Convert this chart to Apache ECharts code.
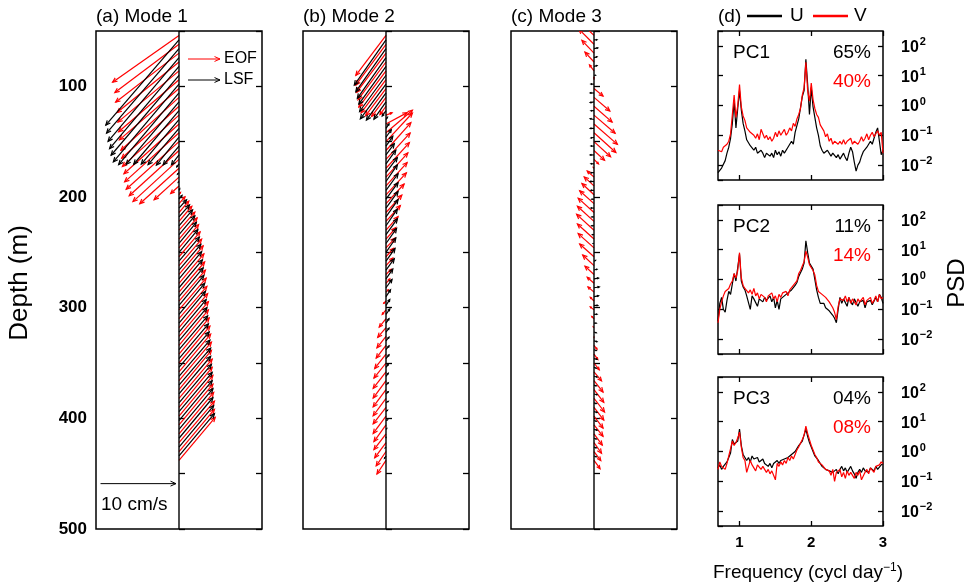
<!DOCTYPE html>
<html><head><meta charset="utf-8">
<script src="https://cdn.jsdelivr.net/npm/echarts@6/dist/echarts.min.js"></script>
<style>html,body{margin:0;padding:0;background:#fff}#chart{width:974px;height:588px}</style>
</head><body><div id="chart"></div>
<script>
// ---------------- DATA ----------------
// depth bins (m): EOF arrows and LSF arrows (interleaved bins)
const eofDepths = [54,62,70,78,86,94,102,110,118,126,134,142,150,158,166,174,182,190,198,206,214,222,230,238,246,254,262,270,278,286,294,302,310,318,326,334,342,350,358,366,374,382,390,398,406,414,422,430,438];
const lsfDepths = [58,66,74,82,90,98,106,114,122,130,138,146,154,162,170,178,186,194,202,210,218,226,234,242,250,258,266,274,282,290,298,306,314,322,330,338,346,354,362,370,378,386,394,402,410,418,426,434];

// Mode 1 velocities (cm/s): u east, v north
const mode1EofU = [-8.8,-8.5,-8.4,-8.2,-8.1,-8.0,-7.9,-7.7,-7.6,-7.5,-7.3,-7.2,-7.0,-6.6,-6.1,-5.2,-3.3,-1.1,0.2,0.8,1.3,1.7,2.1,2.4,2.6,2.8,3.0,3.2,3.3,3.4,3.5,3.6,3.7,3.8,3.9,3.9,4.0,4.1,4.2,4.3,4.3,4.4,4.4,4.5,4.5,4.6,4.7,4.7,4.8];
const mode1EofV = [-6.2,-6.4,-6.5,-6.7,-6.8,-6.9,-6.8,-7.0,-6.9,-6.8,-6.6,-6.5,-6.3,-6.0,-5.6,-4.7,-3.0,-1.0,0.3,0.9,1.5,2.0,2.4,2.8,3.1,3.3,3.5,3.8,3.9,4.0,4.1,4.2,4.3,4.5,4.6,4.7,4.8,4.9,5.0,5.1,5.2,5.2,5.3,5.4,5.4,5.5,5.5,5.6,5.7];
const mode1LsfU = [-9.7,-9.6,-9.4,-9.2,-9.0,-8.7,-8.0,-7.0,-6.0,-5.0,-4.1,-3.0,-2.1,-1.0,-0.3,-0.2,-0.1,0.1,0.4,1.0,1.4,1.8,2.1,2.3,2.5,2.7,2.9,3.0,3.1,3.2,3.3,3.4,3.5,3.6,3.7,3.8,3.9,4.0,4.1,4.2,4.2,4.3,4.4,4.4,4.5,4.5,4.6,4.7];
const mode1LsfV = [-11.3,-11.2,-11.1,-10.9,-10.6,-10.3,-9.5,-8.3,-7.1,-5.9,-4.8,-3.7,-2.5,-1.3,-0.4,-0.2,-0.1,0.2,0.5,1.1,1.6,2.1,2.5,2.8,3.0,3.2,3.4,3.6,3.7,3.8,4.0,4.1,4.2,4.3,4.4,4.5,4.6,4.7,4.8,4.9,5.0,5.1,5.2,5.3,5.4,5.4,5.5,5.6];

// Mode 2 velocities (cm/s)
const mode2EofU = [-4.0,-4.0,-3.9,-3.7,-3.6,-3.3,-2.7,-1.9,-0.8,0.8,2.8,3.5,3.5,3.3,3.2,3.1,2.9,2.8,2.7,2.4,2.1,1.9,1.6,1.3,1.2,1.0,0.9,0.7,0.5,0.3,-0.3,-0.5,-0.9,-1.1,-1.2,-1.3,-1.5,-1.6,-1.7,-1.7,-1.7,-1.7,-1.7,-1.7,-1.6,-1.6,-1.5,-1.3,-1.2];
const mode2EofV = [-5.3,-5.4,-5.2,-5.0,-4.8,-4.4,-3.6,-2.5,-1.1,0.3,1.5,3.0,3.8,3.7,3.5,3.4,3.2,3.1,2.9,2.6,2.3,2.1,1.8,1.5,1.3,1.1,1.0,0.7,0.6,0.3,-0.3,-0.6,-1.1,-1.3,-1.5,-1.7,-1.9,-2.0,-2.2,-2.3,-2.3,-2.3,-2.2,-2.3,-2.2,-2.1,-2.0,-1.9,-1.8];
const mode2LsfU = [-4.2,-4.0,-3.8,-3.6,-3.5,-3.4,-2.6,-1.6,-0.5,0.2,0.4,0.7,0.9,1.1,1.3,1.5,1.5,1.6,1.6,1.6,1.6,1.5,1.5,1.4,1.3,1.2,1.1,0.9,0.8,0.6,0.5,0.5,0.4,0.4,0.4,0.4,0.4,0.3,0.3,0.3,0.3,0.3,0.2,0.2,0.1,0.0,-0.1,-0.2];
const mode2LsfV = [-6.0,-5.7,-5.4,-5.0,-4.8,-4.6,-3.6,-2.3,-0.7,0.3,0.6,1.0,1.3,1.5,1.8,2.0,2.2,2.2,2.2,2.2,2.3,2.2,2.1,2.0,1.9,1.7,1.5,1.3,1.1,0.9,0.8,0.7,0.6,0.5,0.5,0.5,0.5,0.4,0.4,0.3,0.3,0.2,0.2,0.1,0.1,0.1,-0.1,-0.3];

// Mode 3 velocities (cm/s)
const mode3EofU = [-2.3,-2.0,-1.6,-1.2,-0.6,0.0,1.2,2.1,2.4,2.8,3.1,2.9,2.2,1.4,0.6,-0.1,-0.9,-1.3,-1.6,-1.9,-2.1,-2.2,-2.3,-2.2,-2.1,-1.9,-1.5,-1.2,-0.9,-0.8,-0.5,-0.5,-0.3,-0.1,0.0,0.4,0.5,0.7,1.0,1.2,1.3,1.4,1.3,1.2,1.2,1.1,1.0,0.9,0.8];
const mode3EofV = [2.2,2.0,1.7,1.3,0.8,0.3,-1.0,-1.8,-2.1,-2.4,-2.7,-2.6,-2.0,-1.3,-0.6,0.1,0.8,1.2,1.5,1.7,1.9,2.0,2.1,2.0,1.9,1.7,1.4,1.1,0.8,0.7,0.5,0.4,0.3,0.1,-0.1,-0.5,-0.7,-0.9,-1.2,-1.5,-1.7,-1.8,-1.7,-1.6,-1.5,-1.5,-1.4,-1.2,-1.1];
const mode3LsfU = [0.4,0.5,0.4,0.4,0.2,-0.4,-0.5,-0.5,-0.4,-0.5,-0.5,-0.4,-0.4,-0.5,-0.4,-0.4,-0.5,-0.4,-0.3,-0.4,-0.3,-0.3,-0.2,-0.1,0.0,0.2,0.4,0.6,0.7,0.6,0.5,0.4,0.3,0.3,0.4,0.3,0.4,0.3,0.4,0.3,0.4,0.3,0.4,0.3,0.4,0.3,0.3,0.3];
const mode3LsfV = [0.0,0.1,0.1,0.1,0.0,0.0,0.0,-0.1,0.0,0.1,0.0,-0.1,0.0,0.0,0.0,0.0,0.0,0.0,0.0,0.0,0.0,0.0,0.0,0.0,0.0,0.1,0.1,0.1,0.1,0.1,0.0,0.0,0.0,-0.1,-0.1,-0.1,-0.1,-0.1,-0.1,-0.1,-0.1,-0.1,-0.1,-0.1,-0.1,-0.1,-0.1,-0.1];

// Spectra: frequency (cycl/day) and log10(PSD)
const freqs = [0.7,0.725,0.75,0.775,0.8,0.825,0.85,0.875,0.9,0.925,0.95,0.975,1,1.025,1.05,1.075,1.1,1.125,1.15,1.175,1.2,1.225,1.25,1.275,1.3,1.325,1.35,1.375,1.4,1.425,1.45,1.475,1.5,1.525,1.55,1.575,1.6,1.625,1.65,1.675,1.7,1.725,1.75,1.775,1.8,1.825,1.85,1.875,1.9,1.925,1.95,1.975,2,2.025,2.05,2.075,2.1,2.125,2.15,2.175,2.2,2.225,2.25,2.275,2.3,2.325,2.35,2.375,2.4,2.425,2.45,2.475,2.5,2.525,2.55,2.575,2.6,2.625,2.65,2.675,2.7,2.725,2.75,2.775,2.8,2.825,2.85,2.875,2.9,2.925,2.95,2.975,3];
const pc1ULog = [-2.25,-2.2,-2.1,-2.15,-1.85,-1.6,-1.4,-1.1,-0.6,0.15,
 -0.75,-0.1,0.5,-0.15,-0.6,-0.85,-1.15,-1.1,-1.35,-1.3,
 -1.5,-1.4,-1.6,-1.65,-1.5,-1.6,-1.75,-1.6,-1.55,-1.7,
 -1.6,-1.75,-1.5,-1.65,-1.55,-1.7,-1.5,-1.6,-1.55,-1.4,
 -1.4,-1.2,-1.3,-0.9,-0.85,-0.45,-0.5,0.3,0.5,1.55,
 0.7,-0.3,0.6,-0.05,-0.4,-0.75,-1.0,-1.35,-1.5,-1.6,
 -1.6,-1.5,-1.55,-1.7,-1.6,-1.55,-1.75,-1.65,-1.8,-1.7,
 -1.6,-1.75,-1.85,-1.6,-1.4,-1.55,-1.9,-2.2,-2.0,-1.9,
 -1.7,-1.55,-1.6,-1.4,-1.45,-1.2,-1.3,-1.1,-0.9,-0.75,
 -1.2,-1.65,-1.5];
const pc1VLog = [-1.5,-1.45,-1.55,-1.4,-1.35,-1.3,-1.2,-0.95,-0.3,0.35,
 -0.4,0.0,0.7,-0.05,-0.35,-0.5,-0.75,-0.7,-0.9,-0.85,
 -1.0,-1.1,-0.95,-1.15,-0.8,-0.85,-1.1,-1.0,-1.15,-1.05,
 -1.2,-1.1,-0.9,-1.05,-0.85,-1.0,-0.95,-0.8,-1.0,-0.9,
 -0.75,-0.85,-0.6,-0.7,-0.45,-0.3,-0.1,0.35,0.6,1.45,
 0.5,0.15,0.75,0.2,-0.1,-0.3,-0.4,-0.65,-0.6,-0.85,
 -1.05,-0.95,-1.2,-1.1,-1.3,-1.2,-1.25,-1.3,-1.2,-1.3,
 -1.15,-1.3,-1.2,-1.25,-1.1,-1.3,-1.2,-1.15,-1.3,-1.2,
 -1.05,-1.2,-1.1,-0.95,-1.15,-1.0,-0.9,-1.05,-0.95,-0.85,
 -1.0,-0.9,-1.6];
const pc2ULog = [-1.4,-0.8,-0.6,-1.0,-1.1,-0.7,-0.4,-0.5,-0.15,0.2,
 -0.05,0.0,0.85,-0.05,-0.25,-0.35,-0.55,-0.6,-1.0,-0.55,
 -0.65,-0.7,-0.9,-0.65,-0.6,-0.75,-0.6,-0.7,-0.65,-0.55,
 -0.75,-0.6,-0.95,-0.7,-1.0,-0.65,-0.7,-0.55,-0.6,-0.45,
 -0.5,-0.35,-0.4,-0.2,-0.1,0.1,0.15,0.35,0.55,1.3,
 0.9,0.55,0.5,0.35,0.0,-0.35,-0.6,-0.8,-0.85,-0.8,
 -0.95,-0.9,-1.05,-1.0,-1.2,-1.3,-1.45,-1.0,-0.6,-0.8,
 -0.65,-0.7,-0.9,-0.6,-0.75,-0.85,-0.65,-0.7,-0.9,-0.75,
 -0.8,-0.7,-0.95,-0.75,-0.8,-0.7,-0.85,-0.8,-0.6,-0.75,
 -0.5,-0.6,-0.8];
const pc2VLog = [-1.45,-1.0,-0.75,-0.55,-0.4,-0.35,-0.3,-0.15,-0.05,0.2,
 0.05,0.3,0.9,0.05,-0.2,-0.3,-0.25,-0.45,-0.35,-0.5,
 -0.3,-0.55,-0.45,-0.65,-0.5,-0.45,-0.6,-0.75,-0.55,-0.6,
 -0.45,-0.65,-0.55,-0.75,-0.5,-0.6,-0.45,-0.5,-0.4,-0.55,
 -0.35,-0.4,-0.2,-0.25,-0.05,0.2,0.3,0.45,0.6,0.95,
 0.75,0.5,0.45,0.3,0.15,-0.2,-0.4,-0.45,-0.5,-0.45,
 -0.6,-0.55,-0.75,-0.8,-0.95,-1.1,-1.35,-0.9,-0.65,-0.6,
 -0.7,-0.55,-0.75,-0.6,-0.8,-0.65,-0.7,-0.85,-0.65,-0.75,
 -0.7,-0.6,-0.85,-0.7,-0.75,-0.6,-0.8,-0.7,-0.55,-0.75,
 -0.5,-0.65,-0.6];
const pc3ULog = [-0.55,-0.45,-0.6,-0.5,-0.45,-0.35,-0.2,-0.05,0.4,0.25,
 0.2,0.35,0.75,0.2,-0.1,-0.15,-0.3,-0.2,-0.35,-0.15,
 -0.25,-0.3,-0.2,-0.35,-0.3,-0.25,-0.4,-0.35,-0.5,-0.4,
 -0.55,-0.4,-0.35,-0.3,-0.4,-0.3,-0.35,-0.25,-0.3,-0.2,
 -0.25,-0.1,-0.15,0.0,0.05,0.2,0.15,0.35,0.4,0.75,
 0.5,0.3,0.15,0.0,-0.15,-0.2,-0.3,-0.35,-0.5,-0.45,
 -0.6,-0.55,-0.65,-0.6,-0.7,-0.65,-0.6,-0.75,-0.6,-0.5,
 -0.65,-0.55,-0.7,-0.6,-0.5,-0.65,-0.75,-0.9,-0.7,-0.6,
 -0.7,-0.55,-0.65,-0.6,-0.7,-0.55,-0.6,-0.65,-0.5,-0.6,
 -0.55,-0.45,-0.4];
const pc3VLog = [-0.6,-0.35,-0.5,-0.45,-0.6,-0.4,-0.15,0.1,0.35,0.2,
 0.3,0.45,0.65,0.15,-0.2,-0.3,-0.7,-0.75,-0.3,-0.45,
 -0.4,-0.65,-0.45,-0.4,-0.6,-0.5,-0.55,-0.7,-0.6,-0.75,
 -0.65,-0.8,-0.95,-0.4,-0.5,-0.35,-0.45,-0.3,-0.4,-0.2,
 -0.3,-0.15,-0.25,-0.1,0.05,0.15,0.1,0.4,0.55,0.85,
 0.6,0.4,0.2,0.05,-0.1,-0.2,-0.35,-0.3,-0.45,-0.5,
 -0.6,-0.55,-0.65,-0.8,-0.6,-1.0,-0.7,-0.75,-0.6,-0.85,
 -0.7,-0.9,-0.65,-0.8,-0.7,-0.75,-0.9,-0.7,-0.8,-0.65,
 -0.95,-1.0,-0.7,-0.6,-0.75,-0.55,-0.6,-0.7,-0.5,-0.55,
 -0.45,-0.35,-0.4];

const panelTitles = ['(a) Mode 1', '(b) Mode 2', '(c) Mode 3'];
const pcNames = ['PC1', 'PC2', 'PC3'];
const varianceU = ['65%', '11%', '04%'];
const varianceV = ['40%', '14%', '08%'];
const depthRange = [50, 500];
const speedRange = [-11, 11];
const freqRange = [0.7, 3];
const psdRange = [0.0031623, 316.23];
const scaleBar = { depth: 459, startU: -10.4, speed: 10, label: '10 cm/s' };

// ---------------- CHART ----------------
const FF = '"Liberation Sans", Arial, Helvetica, sans-serif';
const RED = '#ff0000';
const BLACK = '#000000';
const ARROW_W = 1.2;

function arrowShapes(x0, y0, x1, y1, color, maxHead, lw) {
  const dx = x1 - x0, dy = y1 - y0;
  const len = Math.sqrt(dx * dx + dy * dy);
  if (len < 0.4) return [];
  const h = Math.min(maxHead, 0.38 * len);
  const ang = Math.atan2(dy, dx);
  const a = 0.42;
  const p1 = [x1 - h * Math.cos(ang - a), y1 - h * Math.sin(ang - a)];
  const p2 = [x1 - h * Math.cos(ang + a), y1 - h * Math.sin(ang + a)];
  const st = { stroke: color, lineWidth: lw || ARROW_W, fill: null };
  return [
    { type: 'polyline', shape: { points: [[x0, y0], [x1, y1]] }, style: st },
    { type: 'polyline', shape: { points: [p1, [x1, y1], p2] }, style: st }
  ];
}

function featherRender(color) {
  return function (params, api) {
    const d = api.value(0), u = api.value(1), v = api.value(2);
    const base = api.coord([0, d]);
    const s = api.size([1, 0])[0];
    const tip = [base[0] + u * s, base[1] - v * s];
    return { type: 'group', children: arrowShapes(base[0], base[1], tip[0], tip[1], color, 5) };
  };
}

function rows(ds, us, vs) { return ds.map((d, i) => [d, us[i], vs[i]]); }

const featherLefts = [96, 303, 511];
const psdTops = [31, 205, 377];
const grids = [];
featherLefts.forEach(l => grids.push({ left: l, top: 31, width: 166, height: 498 }));
psdTops.forEach(t => grids.push({ left: 718, top: t, width: 165, height: 149 }));
grids.forEach(g => { g.show = true; g.borderColor = '#000'; g.borderWidth = 1.5; g.backgroundColor = 'transparent'; g.containLabel = false; g.outerBoundsMode = 'none'; });

const tickStyle = { show: true, inside: true, length: 6, lineStyle: { color: '#000', width: 1.3 } };

const xAxis = [];
const yAxis = [];
for (let k = 0; k < 3; k++) {
  xAxis.push({ type: 'value', gridIndex: k, min: speedRange[0], max: speedRange[1], show: false });
}
for (let k = 0; k < 3; k++) {
  xAxis.push({
    type: 'value', gridIndex: 3 + k, position: 'bottom', min: freqRange[0], max: freqRange[1],
    axisLine: { show: false }, splitLine: { show: false },
    axisTick: Object.assign({}, tickStyle, { length: 5, customValues: [1, 2, 3] }),
    axisLabel: { show: k === 2, customValues: [1, 2, 3], color: '#000', fontWeight: 'bold', fontSize: 15, fontFamily: FF, margin: 9 }
  });
}
for (let k = 0; k < 3; k++) {
  xAxis.push({
    type: 'value', gridIndex: 3 + k, position: 'top', min: freqRange[0], max: freqRange[1],
    axisLine: { show: false }, splitLine: { show: false },
    axisTick: Object.assign({}, tickStyle, { length: 5, customValues: [1, 2, 3] }),
    axisLabel: { show: false }
  });
}
for (let k = 0; k < 3; k++) {
  ['left', 'right'].forEach(pos => {
    yAxis.push({
      type: 'value', gridIndex: k, position: pos, inverse: true, min: depthRange[0], max: depthRange[1], interval: 50,
      axisLine: { show: false }, splitLine: { show: false }, axisTick: tickStyle,
      axisLabel: {
        show: k === 0 && pos === 'left', color: '#000', fontWeight: 'bold', fontSize: 17, fontFamily: FF, margin: 9,
        formatter: v => (v % 100 === 0 && v >= 100) ? String(v) : ''
      }
    });
  });
}
for (let k = 0; k < 3; k++) {
  ['left', 'right'].forEach(pos => {
    yAxis.push({
      type: 'log', logBase: 10, gridIndex: 3 + k, position: pos, min: psdRange[0], max: psdRange[1],
      axisLine: { show: false }, splitLine: { show: false },
      axisTick: Object.assign({}, tickStyle, { length: 5 }),
      axisLabel: {
        show: pos === 'right', showMinLabel: false, showMaxLabel: false, margin: 18, color: '#000',
        fontFamily: FF,
        formatter: v => {
          const e = Math.round(Math.log10(v));
          return '{b|10}{e|' + (e < 0 ? '\u2212' + (-e) : e) + '}';
        },
        rich: {
          b: { fontSize: 16, fontWeight: 'bold', fontFamily: FF, color: '#000', verticalAlign: 'bottom' },
          e: { fontSize: 11, fontWeight: 'bold', fontFamily: FF, color: '#000', verticalAlign: 'bottom', padding: [0, 0, 8, 1] }
        }
      }
    });
  });
}

const series = [];
const featherSets = [
  [mode1EofU, mode1EofV, mode1LsfU, mode1LsfV],
  [mode2EofU, mode2EofV, mode2LsfU, mode2LsfV],
  [mode3EofU, mode3EofV, mode3LsfU, mode3LsfV]
];
featherSets.forEach((set, k) => {
  series.push({ type: 'custom', name: 'EOF', xAxisIndex: k, yAxisIndex: 2 * k, data: rows(eofDepths, set[0], set[1]),
    encode: { x: 1, y: 0 }, renderItem: featherRender(RED), clip: true, silent: true, z: 2 });
  series.push({ type: 'custom', name: 'LSF', xAxisIndex: k, yAxisIndex: 2 * k, data: rows(lsfDepths, set[2], set[3]),
    encode: { x: 1, y: 0 }, renderItem: featherRender(BLACK), clip: true, silent: true, z: 3 });
  series.push({ type: 'line', xAxisIndex: k, yAxisIndex: 2 * k, data: [[0, depthRange[0]], [0, depthRange[1]]],
    symbol: 'none', silent: true, lineStyle: { color: '#000', width: 1.4 }, z: 4 });
});
series.push({ type: 'custom', xAxisIndex: 0, yAxisIndex: 0, data: [[scaleBar.depth, scaleBar.startU, scaleBar.speed]],
  encode: { x: 1, y: 0 }, silent: true, z: 4,
  renderItem: (params, api) => {
    const a = api.coord([api.value(1), api.value(0)]);
    const b = api.coord([api.value(1) + api.value(2), api.value(0)]);
    return { type: 'group', children: arrowShapes(a[0], a[1], b[0], b[1], BLACK, 6, 1) };
  } });

const spectra = [[pc1ULog, pc1VLog], [pc2ULog, pc2VLog], [pc3ULog, pc3VLog]];
spectra.forEach((pair, k) => {
  [[pair[0], BLACK], [pair[1], RED]].forEach(([logs, color], j) => {
    series.push({ type: 'line', xAxisIndex: 3 + k, yAxisIndex: 6 + 2 * k,
      data: freqs.map((f, i) => [f, Math.pow(10, logs[i])]),
      symbol: 'none', silent: true, clip: true, z: 2 + j,
      lineStyle: { color: color, width: 1.2 } });
  });
});

function txt(x, y, text, o) {
  o = o || {};
  return { type: 'text', x: x, y: y, rotation: o.rotation || 0, silent: true, z: 10,
    style: { text: text, fill: o.color || '#000', fontSize: o.size || 19, fontFamily: FF, fontWeight: o.weight || 'normal',
      align: o.align || 'left', verticalAlign: 'middle', rich: o.rich } };
}
const graphic = [];
featherLefts.forEach((x, k) => graphic.push(txt(x, 17, panelTitles[k])));
graphic.push(txt(718, 17, '(d)'));
graphic.push({ type: 'line', shape: { x1: 747, y1: 16, x2: 782, y2: 16 }, style: { stroke: BLACK, lineWidth: 2.5 }, silent: true });
graphic.push(txt(790, 16, 'U'));
graphic.push({ type: 'line', shape: { x1: 813, y1: 16, x2: 848, y2: 16 }, style: { stroke: RED, lineWidth: 2.5 }, silent: true });
graphic.push(txt(854, 16, 'V'));
[[59, RED, 'EOF'], [80, BLACK, 'LSF']].forEach(([y, c, t]) => {
  arrowShapes(188, y, 220, y, c, 6, 1).forEach(s => { s.silent = true; graphic.push(s); });
  graphic.push(txt(224, y, t, { size: 16 }));
});
graphic.push(txt(101, 505, scaleBar.label, { size: 19 }));
psdTops.forEach((t, k) => {
  graphic.push(txt(733, t + 22, pcNames[k]));
  graphic.push(txt(871, t + 22, varianceU[k], { align: 'right' }));
  graphic.push(txt(871, t + 51, varianceV[k], { align: 'right', color: RED }));
});
graphic.push(txt(20, 283, 'Depth (m)', { size: 26, align: 'center', rotation: Math.PI / 2 }));
graphic.push(txt(957, 283, 'PSD', { size: 24, align: 'center', rotation: Math.PI / 2 }));
graphic.push(txt(808, 573, 'Frequency (cycl day{s|\u22121})', { align: 'center',
  rich: { s: { fontSize: 12, fontFamily: FF, fill: '#000', verticalAlign: 'bottom', padding: [0, 0, 10, 0] } } }));

const chart = echarts.init(document.getElementById('chart'), null, { renderer: 'canvas' });
chart.setOption({
  animation: false,
  backgroundColor: '#fff',
  textStyle: { fontFamily: FF },
  grid: grids, xAxis: xAxis, yAxis: yAxis, series: series, graphic: graphic
});
</script>
</body></html>
